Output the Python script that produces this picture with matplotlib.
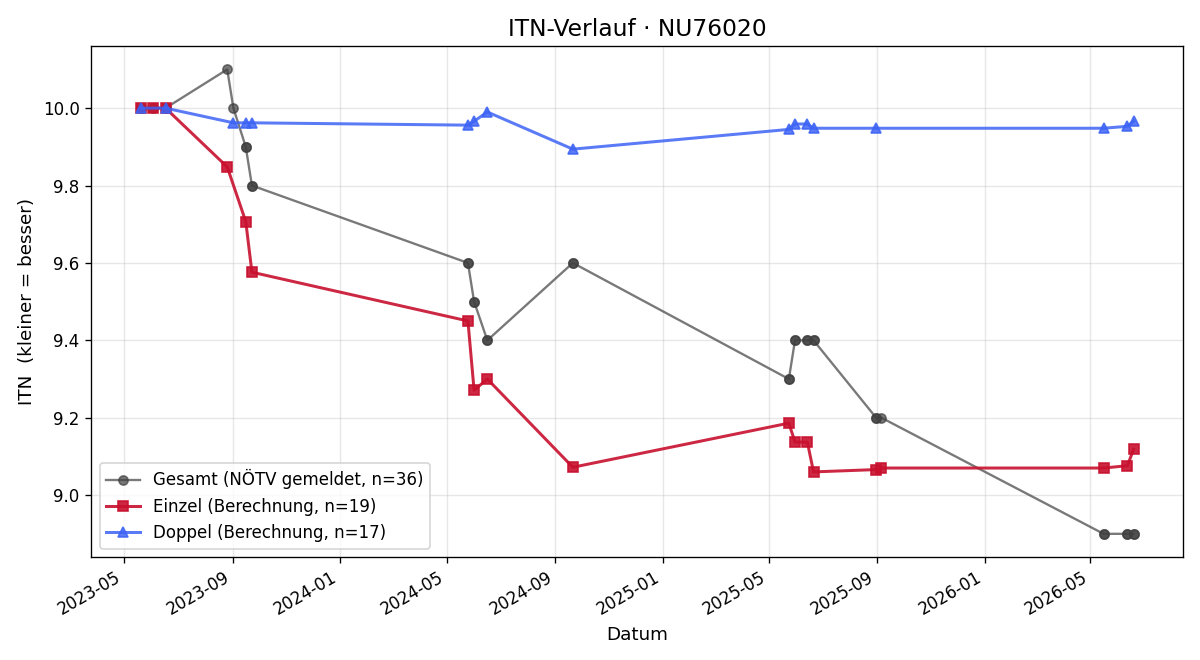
import numpy as np
import pandas as pd
import matplotlib
matplotlib.use("Agg")
import matplotlib.pyplot as plt
import matplotlib.dates as mdates

# Einzel (singles) ITN values
einzel_dates = ["2023-05-20", "2023-06-03", "2023-06-17", "2023-08-26", "2023-09-16",
                "2023-09-23", "2024-05-25", "2024-06-01", "2024-06-16", "2024-09-21",
                "2025-05-24", "2025-05-31", "2025-06-14", "2025-06-21", "2025-08-31",
                "2025-09-06", "2026-05-16", "2026-06-12", "2026-06-19"]
einzel_itn = [10.0, 10.0, 10.0, 9.848, 9.707, 9.576, 9.450, 9.271, 9.300, 9.072,
              9.186, 9.137, 9.137, 9.060, 9.066, 9.070, 9.070, 9.076, 9.118]

# Doppel (doubles) ITN values
doppel_dates = ["2023-05-20", "2023-06-17", "2023-09-02", "2023-09-16", "2023-09-23",
                "2024-05-25", "2024-06-01", "2024-06-16", "2024-09-21", "2025-05-24",
                "2025-05-31", "2025-06-14", "2025-06-21", "2025-08-31", "2026-05-16",
                "2026-06-12", "2026-06-19"]
doppel_itn = [10.0, 10.0, 9.962, 9.962, 9.962, 9.956, 9.966, 9.990, 9.894, 9.945,
              9.959, 9.959, 9.948, 9.948, 9.948, 9.953, 9.966]

# Gesamt (reported by NÖTV)
gesamt_dates = ["2023-05-20", "2023-05-20", "2023-06-03", "2023-06-17", "2023-06-17",
                "2023-08-26", "2023-09-02", "2023-09-16", "2023-09-16", "2023-09-23",
                "2023-09-23", "2024-05-25", "2024-05-25", "2024-06-01", "2024-06-01",
                "2024-06-16", "2024-06-16", "2024-09-21", "2024-09-21", "2025-05-24",
                "2025-05-24", "2025-05-31", "2025-05-31", "2025-06-14", "2025-06-14",
                "2025-06-21", "2025-06-21", "2025-08-31", "2025-08-31", "2025-09-06",
                "2026-05-16", "2026-05-16", "2026-06-12", "2026-06-12", "2026-06-19",
                "2026-06-19"]
gesamt_itn = [10.0, 10.0, 10.0, 10.0, 10.0, 10.1, 10.0, 9.9, 9.9, 9.8,
              9.8, 9.6, 9.6, 9.5, 9.5, 9.4, 9.4, 9.6, 9.6, 9.3,
              9.3, 9.4, 9.4, 9.4, 9.4, 9.4, 9.4, 9.2, 9.2, 9.2,
              8.9, 8.9, 8.9, 8.9, 8.9, 8.9]

fig, ax = plt.subplots(figsize=(10, 5.5), dpi=120)

ax.plot(pd.to_datetime(gesamt_dates), gesamt_itn, marker="o", markersize=5.5,
        color="#404040", alpha=0.7, linewidth=1.4,
        label=f"Gesamt (NÖTV gemeldet, n={len(gesamt_itn)})")
ax.plot(pd.to_datetime(einzel_dates), einzel_itn, marker="s", markersize=6,
        color="#c8102e", alpha=0.9, linewidth=1.8,
        label=f"Einzel (Berechnung, n={len(einzel_itn)})")
ax.plot(pd.to_datetime(doppel_dates), doppel_itn, marker="^", markersize=6.5,
        color="#3d63f5", alpha=0.85, linewidth=1.8,
        label=f"Doppel (Berechnung, n={len(doppel_itn)})")

ax.set_title("ITN-Verlauf · NU76020", fontsize=14)
ax.set_xlabel("Datum", fontsize=11)
ax.set_ylabel("ITN  (kleiner = besser)", fontsize=11)
ax.grid(True, alpha=0.3)
ax.legend(loc="lower left", fontsize=10)

ax.xaxis.set_major_locator(mdates.MonthLocator(bymonth=[1, 5, 9]))
ax.xaxis.set_major_formatter(mdates.DateFormatter("%Y-%m"))
fig.autofmt_xdate()

fig.subplots_adjust(left=0.076, right=0.986, top=0.930, bottom=0.156)
plt.savefig("out.png")
